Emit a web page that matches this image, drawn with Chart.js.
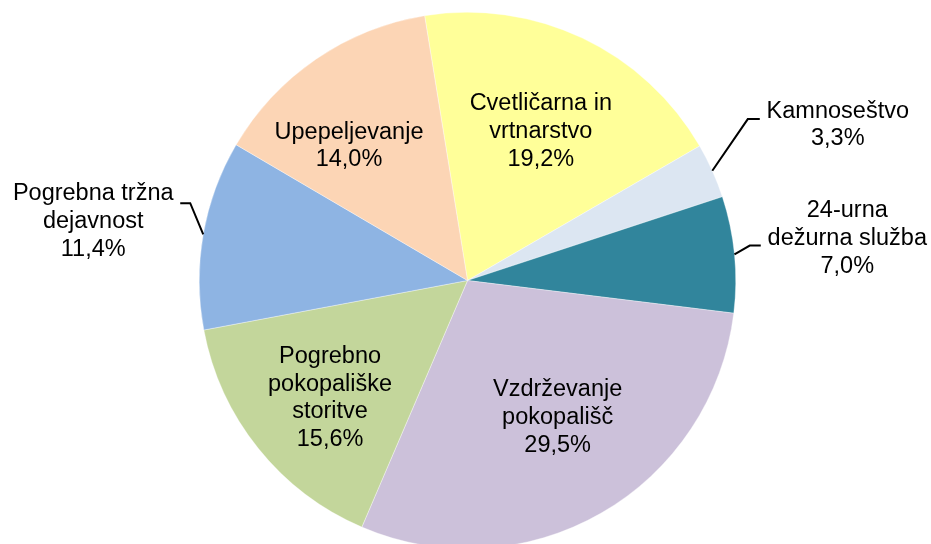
<!DOCTYPE html>
<html>
<head>
<meta charset="utf-8">
<script src="https://cdn.jsdelivr.net/npm/chart.js@4/dist/chart.umd.min.js"></script>
<style>
  html, body { margin: 0; padding: 0; background: #fff; overflow: hidden; }
  #wrap { position: relative; width: 931px; height: 560px; }
</style>
</head>
<body>
<div id="wrap"><canvas id="pieChart"></canvas></div>
<script>
// categories, clockwise from the top
var categories = ['Cvetličarna in vrtnarstvo', 'Kamnoseštvo', '24-urna dežurna služba',
    'Vzdrževanje pokopališč', 'Pogrebno pokopališke storitve', 'Pogrebna tržna dejavnost', 'Upepeljevanje'];
var shares = [19.2, 3.3, 7.0, 29.5, 15.6, 11.4, 14.0];
var labelLines = [
    ['Cvetličarna in', 'vrtnarstvo'],
    ['Kamnoseštvo'],
    ['24-urna', 'dežurna služba'],
    ['Vzdrževanje', 'pokopališč'],
    ['Pogrebno', 'pokopališke', 'storitve'],
    ['Pogrebna tržna', 'dejavnost'],
    ['Upepeljevanje']
];
var sliceColors = ['#FFFF99', '#DCE6F2', '#31859C', '#CCC1DA', '#C3D69B', '#8EB4E3', '#FCD5B5'];

// label placement: inside -> radius fraction + angle tweak (deg); outside -> offsets from the arc edge
var labelPlacement = [
    {inside: true, f: 0.62, turn: 0.8},
    {inside: false, elbow: [35.5, -51.7], end: [47.5, -51.7], text: [125.5, -45.7]},
    {inside: false, elbow: [15.3, -8.8], end: [26.3, -8.8], text: [112.8, -15.8]},
    {inside: true, f: 0.612, turn: -3.4},
    {inside: true, f: 0.674, turn: -1.8},
    {inside: false, elbow: [-13, -31.3], end: [-23, -31.3], text: [-110, -12.8]},
    {inside: true, f: 0.668, turn: -7}
];

var FONT = '23.5px "Liberation Sans", Arial, sans-serif';
var LINE_H = 27.8;

function pct(v) {
    return v.toFixed(1).replace('.', ',') + '%';
}

var sliceLabels = {
    id: 'sliceLabels',
    afterDatasetsDraw: function (chart) {
        var ctx = chart.ctx;
        var arcs = chart.getDatasetMeta(0).data;
        ctx.save();
        ctx.font = FONT;
        ctx.fillStyle = '#000';
        ctx.textAlign = 'center';
        ctx.textBaseline = 'middle';
        arcs.forEach(function (arc, i) {
            var p = labelPlacement[i];
            var mid = (arc.startAngle + arc.endAngle) / 2;
            var lines = labelLines[i].concat([pct(shares[i])]);
            var cx, cy;
            if (p.inside) {
                var a = mid + p.turn * Math.PI / 180;
                cx = arc.x + Math.cos(a) * arc.outerRadius * p.f;
                cy = arc.y + Math.sin(a) * arc.outerRadius * p.f;
            } else {
                var ex = arc.x + Math.cos(mid) * arc.outerRadius;
                var ey = arc.y + Math.sin(mid) * arc.outerRadius;
                ctx.beginPath();
                ctx.strokeStyle = '#000';
                ctx.lineWidth = 2;
                ctx.moveTo(ex, ey);
                ctx.lineTo(ex + p.elbow[0], ey + p.elbow[1]);
                ctx.lineTo(ex + p.end[0], ey + p.end[1]);
                ctx.stroke();
                cx = ex + p.text[0];
                cy = ey + p.text[1];
            }
            var top = cy - (lines.length - 1) * LINE_H / 2;
            lines.forEach(function (t, k) {
                ctx.fillText(t, cx, top + k * LINE_H);
            });
        });
        ctx.restore();
    }
};

var pieChart = new Chart(document.getElementById('pieChart'), {
    type: 'pie',
    data: {
        labels: categories,
        datasets: [{
            data: shares,
            backgroundColor: sliceColors,
            borderColor: 'rgba(255,255,255,0.7)',
            borderWidth: 0.5
        }]
    },
    options: {
        responsive: true,
        maintainAspectRatio: false,
        animation: false,
        rotation: -9.2,
        layout: {padding: {left: 199, right: 195, top: 11.5, bottom: 10.5}},
        plugins: {
            legend: {display: false},
            tooltip: {enabled: false}
        }
    },
    plugins: [sliceLabels]
});
</script>
</body>
</html>
